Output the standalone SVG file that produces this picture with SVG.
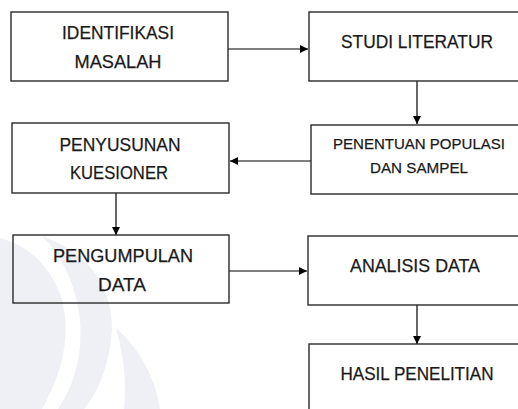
<svg xmlns="http://www.w3.org/2000/svg" width="518" height="409" viewBox="0 0 518 409">
  <style>
    .box { fill: none; stroke: #2a2a2a; stroke-width: 1.4; }
    .t { font-family: "Liberation Sans", Arial, sans-serif; fill: #1a1a1a; text-anchor: middle; font-size: 18.5px; stroke: #1a1a1a; stroke-width: 0.25; }
    .s { font-size: 15.5px; }
    .wm { fill: #eef0f5; }
    .c { stroke: #000; stroke-width: 1.2; fill: none; }
  </style>
  <defs>
    <marker id="ah" viewBox="0 0 10 10" refX="10" refY="5" markerWidth="8" markerHeight="8" markerUnits="userSpaceOnUse" orient="auto">
      <path d="M0,0 L10,5 L0,10 Z" fill="#000"/>
    </marker>
  </defs>
  <rect width="518" height="409" fill="#fff"/>
  <g id="watermark">
    <path class="wm" d="M0,238 Q45,250 62,300 Q75,350 42,409 L0,409 Z"/>
    <path class="wm" d="M42,236 Q112,262 112,330 Q108,380 84,409 L58,409 Q84,370 80,320 Q74,268 42,236 Z"/>
    <path class="wm" d="M116,328 Q152,360 160,409 L124,409 Q128,370 116,328 Z"/>
  </g>
  <g id="connectors">
    <line class="c" x1="228" y1="49" x2="308" y2="49" marker-end="url(#ah)"/>
    <line class="c" x1="417" y1="81" x2="417" y2="124" marker-end="url(#ah)"/>
    <line class="c" x1="311" y1="161" x2="230" y2="161" marker-end="url(#ah)"/>
    <line class="c" x1="116" y1="193" x2="116" y2="235" marker-end="url(#ah)"/>
    <line class="c" x1="229" y1="271" x2="307" y2="271" marker-end="url(#ah)"/>
    <line class="c" x1="417" y1="305" x2="417" y2="344" marker-end="url(#ah)"/>
  </g>
  <g id="identifikasi">
    <rect class="box" x="11" y="12" width="217" height="69"/>
    <text class="t" x="118" y="39" textLength="112" lengthAdjust="spacingAndGlyphs">IDENTIFIKASI</text>
    <text class="t" x="118" y="68" textLength="87" lengthAdjust="spacingAndGlyphs">MASALAH</text>
  </g>
  <g id="studi">
    <rect class="box" x="309" y="12" width="230" height="69"/>
    <text class="t" x="417" y="47.5" textLength="152" lengthAdjust="spacingAndGlyphs">STUDI LITERATUR</text>
  </g>
  <g id="penentuan">
    <rect class="box" x="311" y="125" width="230" height="69"/>
    <text class="t s" x="419" y="149" textLength="172" lengthAdjust="spacingAndGlyphs">PENENTUAN POPULASI</text>
    <text class="t s" x="419" y="173" textLength="98" lengthAdjust="spacingAndGlyphs">DAN SAMPEL</text>
  </g>
  <g id="penyusunan">
    <rect class="box" x="12" y="123" width="217" height="70"/>
    <text class="t" x="120" y="150.5" textLength="121" lengthAdjust="spacingAndGlyphs">PENYUSUNAN</text>
    <text class="t" x="119" y="179" textLength="98" lengthAdjust="spacingAndGlyphs">KUESIONER</text>
  </g>
  <g id="pengumpulan">
    <rect class="box" x="13" y="235" width="216" height="68"/>
    <text class="t" x="123" y="261.5" textLength="140" lengthAdjust="spacingAndGlyphs">PENGUMPULAN</text>
    <text class="t" x="122" y="290.5" textLength="48" lengthAdjust="spacingAndGlyphs">DATA</text>
  </g>
  <g id="analisis">
    <rect class="box" x="308" y="236" width="230" height="69"/>
    <text class="t" x="415" y="271.5" textLength="130" lengthAdjust="spacingAndGlyphs">ANALISIS DATA</text>
  </g>
  <g id="hasil">
    <rect class="box" x="309" y="344" width="230" height="80"/>
    <text class="t" x="417" y="380" textLength="153" lengthAdjust="spacingAndGlyphs">HASIL PENELITIAN</text>
  </g>
</svg>
